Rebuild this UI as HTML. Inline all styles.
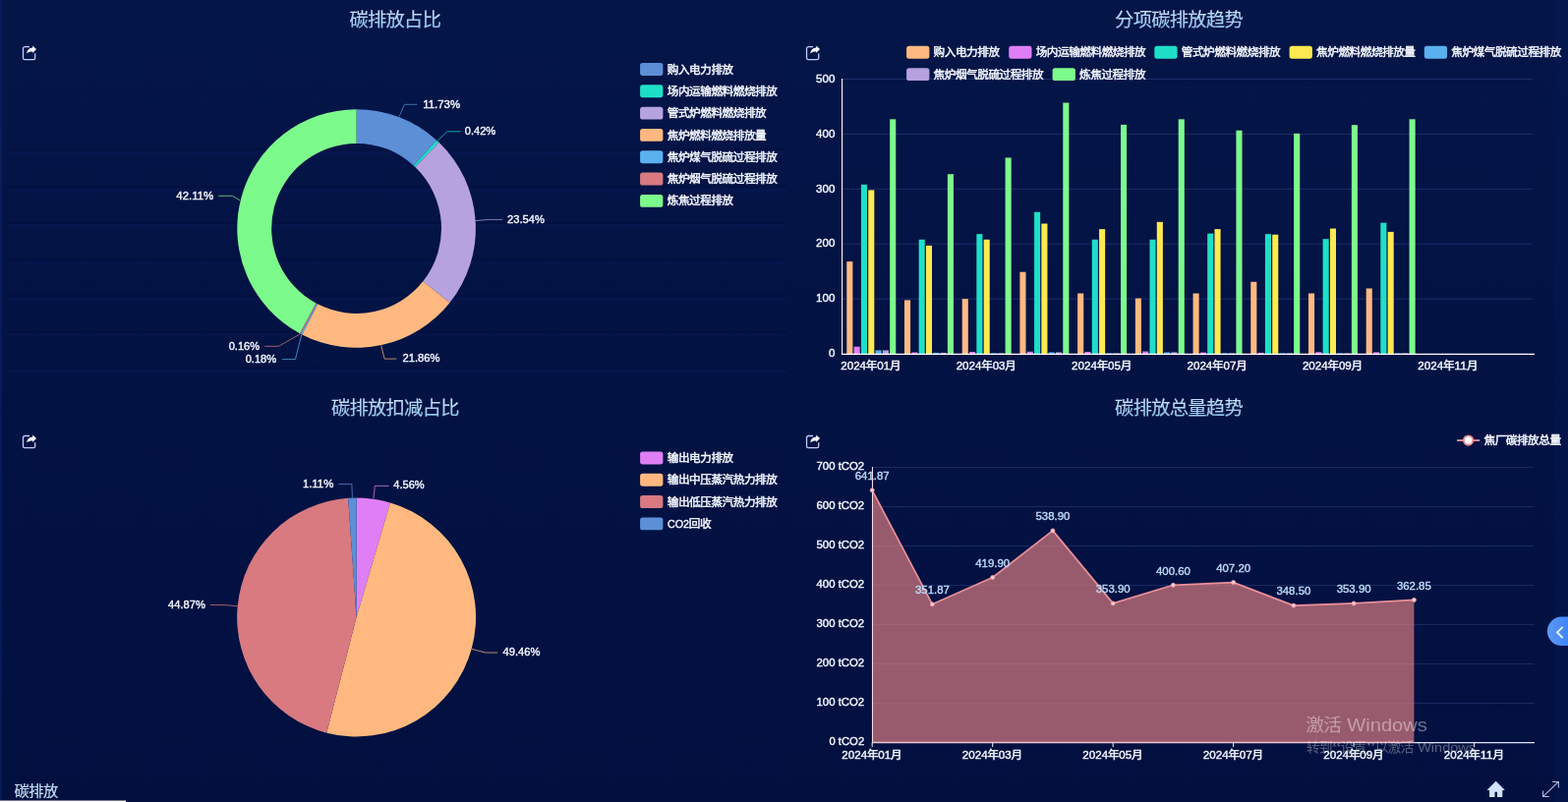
<!DOCTYPE html>
<html lang="zh"><head><meta charset="utf-8"><title>碳排放</title>
<style>
html,body{margin:0;padding:0;background:#031344;overflow:hidden}
svg{display:block;will-change:transform}
text{font-family:"Liberation Sans","Noto Sans CJK SC",sans-serif}
</style></head><body>
<svg width="1595" height="816" viewBox="0 0 1595 816">
<defs>
<linearGradient id="bgv" x1="0" y1="0" x2="0" y2="1"><stop offset="0" stop-color="#041548"/><stop offset="0.35" stop-color="#031344"/><stop offset="1" stop-color="#021040"/></linearGradient>
<linearGradient id="tg" x1="0" y1="0" x2="0" y2="1"><stop offset="0" stop-color="#cfe6fb"/><stop offset="1" stop-color="#86bde9"/></linearGradient>
<linearGradient id="bg1" x1="0" y1="0" x2="1" y2="0"><stop offset="0" stop-color="#5e97f3"/><stop offset="1" stop-color="#3f85f7"/></linearGradient>
</defs>
<rect width="1595" height="816" fill="url(#bgv)"/>
<rect x="0" y="0" width="2" height="816" fill="#0a2a78" opacity="0.4"/>
<line x1="856.9" x2="1559.0" y1="304.10" y2="304.10" stroke="#1f2e6a" stroke-width="1"/>
<line x1="856.9" x2="1559.0" y1="248.20" y2="248.20" stroke="#1f2e6a" stroke-width="1"/>
<line x1="856.9" x2="1559.0" y1="192.30" y2="192.30" stroke="#1f2e6a" stroke-width="1"/>
<line x1="856.9" x2="1559.0" y1="136.40" y2="136.40" stroke="#1f2e6a" stroke-width="1"/>
<line x1="856.9" x2="1559.0" y1="80.50" y2="80.50" stroke="#1f2e6a" stroke-width="1"/>
<rect x="8" y="151.1" width="792" height="2.4" fill="#000830" opacity="0.22"/>
<rect x="8" y="153.6" width="792" height="4" fill="#1a3080" opacity="0.11"/>
<rect x="8" y="188.9" width="792" height="2.4" fill="#000830" opacity="0.22"/>
<rect x="8" y="191.4" width="792" height="4" fill="#1a3080" opacity="0.11"/>
<rect x="8" y="225.4" width="792" height="2.4" fill="#000830" opacity="0.22"/>
<rect x="8" y="227.9" width="792" height="4" fill="#1a3080" opacity="0.11"/>
<rect x="8" y="262.9" width="792" height="2.4" fill="#000830" opacity="0.22"/>
<rect x="8" y="265.4" width="792" height="4" fill="#1a3080" opacity="0.11"/>
<rect x="8" y="299.4" width="792" height="2.4" fill="#000830" opacity="0.22"/>
<rect x="8" y="301.9" width="792" height="4" fill="#1a3080" opacity="0.11"/>
<rect x="8" y="336.4" width="792" height="2.4" fill="#000830" opacity="0.22"/>
<rect x="8" y="338.9" width="792" height="4" fill="#1a3080" opacity="0.11"/>
<rect x="8" y="373.4" width="792" height="2.4" fill="#000830" opacity="0.22"/>
<rect x="8" y="375.9" width="792" height="4" fill="#1a3080" opacity="0.11"/>
<rect x="1581" y="0" width="14" height="816" fill="#0a2a78" opacity="0.12"/>
<g fill="url(#tg)" stroke="#a9d2f2" stroke-width="0.15"><text x="355.45" y="26.83" font-size="19.29" textLength="93.49" lengthAdjust="spacing">碳排放占比</text></g>
<g fill="url(#tg)" stroke="#a9d2f2" stroke-width="0.15"><text x="1134.10" y="26.83" font-size="19.29" textLength="130.59" lengthAdjust="spacing">分项碳排放趋势</text></g>
<g fill="url(#tg)" stroke="#a9d2f2" stroke-width="0.15"><text x="336.90" y="422.23" font-size="19.29" textLength="130.59" lengthAdjust="spacing">碳排放扣减占比</text></g>
<g fill="url(#tg)" stroke="#a9d2f2" stroke-width="0.15"><text x="1134.10" y="422.23" font-size="19.29" textLength="130.59" lengthAdjust="spacing">碳排放总量趋势</text></g>
<g transform="translate(22.70 46.40)"><path d="M7.3 1.2H2.5a1.7 1.7 0 0 0-1.7 1.7v9.60a1.7 1.7 0 0 0 1.7 1.7h8.8a1.7 1.7 0 0 0 1.7-1.7V7.9" fill="none" stroke="#c3cefa" stroke-width="1.3"/><path d="M14.3 3.7L10.5 0.1V2.1C7.2 2.3 4.9 4.5 4.5 8.0C6.1 6.7 7.9 6.1 10.5 6.1V7.7Z" fill="#f3f6ff"/></g>
<g transform="translate(819.75 46.40)"><path d="M7.3 1.2H2.5a1.7 1.7 0 0 0-1.7 1.7v9.60a1.7 1.7 0 0 0 1.7 1.7h8.8a1.7 1.7 0 0 0 1.7-1.7V7.9" fill="none" stroke="#c3cefa" stroke-width="1.3"/><path d="M14.3 3.7L10.5 0.1V2.1C7.2 2.3 4.9 4.5 4.5 8.0C6.1 6.7 7.9 6.1 10.5 6.1V7.7Z" fill="#f3f6ff"/></g>
<g transform="translate(22.70 442.30)"><path d="M7.3 1.2H2.5a1.7 1.7 0 0 0-1.7 1.7v8.70a1.7 1.7 0 0 0 1.7 1.7h8.8a1.7 1.7 0 0 0 1.7-1.7V7.9" fill="none" stroke="#c3cefa" stroke-width="1.3"/><path d="M14.3 3.7L10.5 0.1V2.1C7.2 2.3 4.9 4.5 4.5 8.0C6.1 6.7 7.9 6.1 10.5 6.1V7.7Z" fill="#f3f6ff"/></g>
<g transform="translate(819.75 442.30)"><path d="M7.3 1.2H2.5a1.7 1.7 0 0 0-1.7 1.7v8.70a1.7 1.7 0 0 0 1.7 1.7h8.8a1.7 1.7 0 0 0 1.7-1.7V7.9" fill="none" stroke="#c3cefa" stroke-width="1.3"/><path d="M14.3 3.7L10.5 0.1V2.1C7.2 2.3 4.9 4.5 4.5 8.0C6.1 6.7 7.9 6.1 10.5 6.1V7.7Z" fill="#f3f6ff"/></g>
<rect x="651.10" y="64.00" width="23.3" height="12.9" rx="2.6" fill="#5c8fd6"/>
<g fill="#f3f6ff" stroke="#f3f6ff" stroke-width="0.48"><text x="678.78" y="74.55" font-size="11.61" textLength="67.41" lengthAdjust="spacing">购入电力排放</text></g>
<rect x="651.10" y="86.32" width="23.3" height="12.9" rx="2.6" fill="#1fdec8"/>
<g fill="#f3f6ff" stroke="#f3f6ff" stroke-width="0.48"><text x="678.78" y="96.87" font-size="11.61" textLength="112.05" lengthAdjust="spacing">场内运输燃料燃烧排放</text></g>
<rect x="651.10" y="108.64" width="23.3" height="12.9" rx="2.6" fill="#b6a2de"/>
<g fill="#f3f6ff" stroke="#f3f6ff" stroke-width="0.48"><text x="678.78" y="119.19" font-size="11.61" textLength="100.89" lengthAdjust="spacing">管式炉燃料燃烧排放</text></g>
<rect x="651.10" y="130.96" width="23.3" height="12.9" rx="2.6" fill="#ffb980"/>
<g fill="#f3f6ff" stroke="#f3f6ff" stroke-width="0.48"><text x="678.78" y="141.51" font-size="11.61" textLength="100.89" lengthAdjust="spacing">焦炉燃料燃烧排放量</text></g>
<rect x="651.10" y="153.28" width="23.3" height="12.9" rx="2.6" fill="#5ab1ef"/>
<g fill="#f3f6ff" stroke="#f3f6ff" stroke-width="0.48"><text x="678.78" y="163.83" font-size="11.61" textLength="112.05" lengthAdjust="spacing">焦炉煤气脱硫过程排放</text></g>
<rect x="651.10" y="175.60" width="23.3" height="12.9" rx="2.6" fill="#d87a80"/>
<g fill="#f3f6ff" stroke="#f3f6ff" stroke-width="0.48"><text x="678.78" y="186.15" font-size="11.61" textLength="112.05" lengthAdjust="spacing">焦炉烟气脱硫过程排放</text></g>
<rect x="651.10" y="197.92" width="23.3" height="12.9" rx="2.6" fill="#7dfa8c"/>
<g fill="#f3f6ff" stroke="#f3f6ff" stroke-width="0.48"><text x="678.78" y="208.47" font-size="11.61" textLength="67.41" lengthAdjust="spacing">炼焦过程排放</text></g>
<rect x="651.10" y="459.50" width="23.3" height="12.9" rx="2.6" fill="#e07ff5"/>
<g fill="#f3f6ff" stroke="#f3f6ff" stroke-width="0.48"><text x="678.78" y="470.05" font-size="11.61" textLength="67.41" lengthAdjust="spacing">输出电力排放</text></g>
<rect x="651.10" y="481.80" width="23.3" height="12.9" rx="2.6" fill="#ffb980"/>
<g fill="#f3f6ff" stroke="#f3f6ff" stroke-width="0.48"><text x="678.78" y="492.35" font-size="11.61" textLength="112.05" lengthAdjust="spacing">输出中压蒸汽热力排放</text></g>
<rect x="651.10" y="504.10" width="23.3" height="12.9" rx="2.6" fill="#d87a80"/>
<g fill="#f3f6ff" stroke="#f3f6ff" stroke-width="0.48"><text x="678.78" y="514.65" font-size="11.61" textLength="112.05" lengthAdjust="spacing">输出低压蒸汽热力排放</text></g>
<rect x="651.10" y="526.40" width="23.3" height="12.9" rx="2.6" fill="#5c8fd6"/>
<g fill="#f3f6ff" stroke="#f3f6ff" ><text x="679.00" y="536.88" font-size="11.72" textLength="22.05" lengthAdjust="spacingAndGlyphs" stroke-width="0.40">CO2</text><text x="700.82" y="536.95" font-size="11.61" textLength="22.77" lengthAdjust="spacing" stroke-width="0.48">回收</text></g>
<rect x="922.10" y="46.80" width="23.3" height="12.9" rx="2.6" fill="#ffb980"/>
<g fill="#f3f6ff" stroke="#f3f6ff" stroke-width="0.48"><text x="949.58" y="57.35" font-size="11.61" textLength="67.41" lengthAdjust="spacing">购入电力排放</text></g>
<rect x="1026.20" y="46.80" width="23.3" height="12.9" rx="2.6" fill="#e07ff5"/>
<g fill="#f3f6ff" stroke="#f3f6ff" stroke-width="0.48"><text x="1053.68" y="57.35" font-size="11.61" textLength="112.05" lengthAdjust="spacing">场内运输燃料燃烧排放</text></g>
<rect x="1174.30" y="46.80" width="23.3" height="12.9" rx="2.6" fill="#1fdec8"/>
<g fill="#f3f6ff" stroke="#f3f6ff" stroke-width="0.48"><text x="1201.78" y="57.35" font-size="11.61" textLength="100.89" lengthAdjust="spacing">管式炉燃料燃烧排放</text></g>
<rect x="1311.60" y="46.80" width="23.3" height="12.9" rx="2.6" fill="#fde950"/>
<g fill="#f3f6ff" stroke="#f3f6ff" stroke-width="0.48"><text x="1339.08" y="57.35" font-size="11.61" textLength="100.89" lengthAdjust="spacing">焦炉燃料燃烧排放量</text></g>
<rect x="1448.80" y="46.80" width="23.3" height="12.9" rx="2.6" fill="#5ab1ef"/>
<g fill="#f3f6ff" stroke="#f3f6ff" stroke-width="0.48"><text x="1476.28" y="57.35" font-size="11.61" textLength="112.05" lengthAdjust="spacing">焦炉煤气脱硫过程排放</text></g>
<rect x="922.10" y="69.20" width="23.3" height="12.9" rx="2.6" fill="#b6a2de"/>
<g fill="#f3f6ff" stroke="#f3f6ff" stroke-width="0.48"><text x="949.58" y="79.75" font-size="11.61" textLength="112.05" lengthAdjust="spacing">焦炉烟气脱硫过程排放</text></g>
<rect x="1070.60" y="69.20" width="23.3" height="12.9" rx="2.6" fill="#7dfa8c"/>
<g fill="#f3f6ff" stroke="#f3f6ff" stroke-width="0.48"><text x="1098.08" y="79.75" font-size="11.61" textLength="67.41" lengthAdjust="spacing">炼焦过程排放</text></g>
<path d="M362.60 111.20A121.30 121.30 0 0 1 444.12 142.68L420.67 168.52A86.40 86.40 0 0 0 362.60 146.10Z" fill="#5c8fd6"/>
<path d="M444.12 142.68A121.30 121.30 0 0 1 446.47 144.86L422.34 170.08A86.40 86.40 0 0 0 420.67 168.52Z" fill="#1fdec8"/>
<path d="M446.47 144.86A121.30 121.30 0 0 1 457.55 307.98L430.23 286.27A86.40 86.40 0 0 0 422.34 170.08Z" fill="#b6a2de"/>
<path d="M457.55 307.98A121.30 121.30 0 0 1 307.19 340.41L323.13 309.36A86.40 86.40 0 0 0 430.23 286.27Z" fill="#ffb980"/>
<path d="M307.19 340.41A121.30 121.30 0 0 1 305.97 339.77L322.27 308.91A86.40 86.40 0 0 0 323.13 309.36Z" fill="#5ab1ef"/>
<path d="M305.97 339.77A121.30 121.30 0 0 1 304.90 339.20L321.50 308.50A86.40 86.40 0 0 0 322.27 308.91Z" fill="#d87a80"/>
<path d="M304.90 339.20A121.30 121.30 0 0 1 362.60 111.20L362.60 146.10A86.40 86.40 0 0 0 321.50 308.50Z" fill="#7dfa8c"/>
<polyline points="406.1,118.6 411.4,106.3 424.4,106.3" fill="none" stroke="#5c8fd6" stroke-width="1.0" stroke-opacity="0.72"/>
<polyline points="445.4,143.0 454.8,133.8 468.7,133.8" fill="none" stroke="#1fdec8" stroke-width="1.0" stroke-opacity="0.72"/>
<polyline points="483.6,224.6 497.3,223.4 511.1,223.4" fill="none" stroke="#b6a2de" stroke-width="1.0" stroke-opacity="0.72"/>
<polyline points="387.7,351.5 391.2,365.1 403.3,365.1" fill="none" stroke="#ffb980" stroke-width="1.0" stroke-opacity="0.72"/>
<polyline points="306.8,340.3 300.4,365.6 287.1,365.6" fill="none" stroke="#5ab1ef" stroke-width="1.0" stroke-opacity="0.72"/>
<polyline points="305.7,339.7 283.4,352.3 269.1,352.3" fill="none" stroke="#d87a80" stroke-width="1.0" stroke-opacity="0.72"/>
<polyline points="244.2,203.9 236.5,199.3 222.2,199.3" fill="none" stroke="#7dfa8c" stroke-width="1.0" stroke-opacity="0.72"/>
<g fill="#f3f6ff" stroke="#f3f6ff" ><text x="430.20" y="110.08" font-size="11.72" textLength="37.86" lengthAdjust="spacingAndGlyphs" stroke-width="0.40">11.73%</text></g>
<g fill="#f3f6ff" stroke="#f3f6ff" ><text x="472.80" y="137.08" font-size="11.72" textLength="31.41" lengthAdjust="spacingAndGlyphs" stroke-width="0.40">0.42%</text></g>
<g fill="#f3f6ff" stroke="#f3f6ff" ><text x="516.10" y="226.88" font-size="11.72" textLength="37.86" lengthAdjust="spacingAndGlyphs" stroke-width="0.40">23.54%</text></g>
<g fill="#f3f6ff" stroke="#f3f6ff" ><text x="409.50" y="368.08" font-size="11.72" textLength="37.86" lengthAdjust="spacingAndGlyphs" stroke-width="0.40">21.86%</text></g>
<g fill="#f3f6ff" stroke="#f3f6ff" ><text x="249.69" y="368.88" font-size="11.72" textLength="31.41" lengthAdjust="spacingAndGlyphs" stroke-width="0.40">0.18%</text></g>
<g fill="#f3f6ff" stroke="#f3f6ff" ><text x="232.69" y="355.78" font-size="11.72" textLength="31.41" lengthAdjust="spacingAndGlyphs" stroke-width="0.40">0.16%</text></g>
<g fill="#f3f6ff" stroke="#f3f6ff" ><text x="179.34" y="203.08" font-size="11.72" textLength="37.86" lengthAdjust="spacingAndGlyphs" stroke-width="0.40">42.11%</text></g>
<path d="M362.60 628.00L362.60 506.50A121.50 121.50 0 0 1 396.94 511.45Z" fill="#e07ff5"/>
<path d="M362.60 628.00L396.94 511.45A121.50 121.50 0 0 1 332.24 745.64Z" fill="#ffb980"/>
<path d="M362.60 628.00L332.24 745.64A121.50 121.50 0 0 1 354.13 506.80Z" fill="#d87a80"/>
<path d="M362.60 628.00L354.13 506.80A121.50 121.50 0 0 1 362.60 506.50Z" fill="#5c8fd6"/>
<polyline points="379.9,507.6 381.3,494.4 395.7,494.4" fill="none" stroke="#e07ff5" stroke-width="1.0" stroke-opacity="0.72"/>
<polyline points="479.9,660.3 493.5,664.0 506.1,664.0" fill="none" stroke="#ffb980" stroke-width="1.0" stroke-opacity="0.72"/>
<polyline points="241.6,616.7 227.7,615.5 213.9,615.5" fill="none" stroke="#d87a80" stroke-width="1.0" stroke-opacity="0.72"/>
<polyline points="358.4,506.6 357.9,492.6 344.3,492.6" fill="none" stroke="#5c8fd6" stroke-width="1.0" stroke-opacity="0.72"/>
<g fill="#f3f6ff" stroke="#f3f6ff" ><text x="400.30" y="496.88" font-size="11.72" textLength="31.41" lengthAdjust="spacingAndGlyphs" stroke-width="0.40">4.56%</text></g>
<g fill="#f3f6ff" stroke="#f3f6ff" ><text x="511.60" y="667.48" font-size="11.72" textLength="37.86" lengthAdjust="spacingAndGlyphs" stroke-width="0.40">49.46%</text></g>
<g fill="#f3f6ff" stroke="#f3f6ff" ><text x="171.04" y="618.58" font-size="11.72" textLength="37.86" lengthAdjust="spacingAndGlyphs" stroke-width="0.40">44.87%</text></g>
<g fill="#f3f6ff" stroke="#f3f6ff" ><text x="307.89" y="496.18" font-size="11.72" textLength="31.41" lengthAdjust="spacingAndGlyphs" stroke-width="0.40">1.11%</text></g>
<g fill="#f3f6ff" stroke="#f3f6ff" ><text x="842.94" y="363.28" font-size="11.72" textLength="6.46" lengthAdjust="spacingAndGlyphs" stroke-width="0.40">0</text></g>
<g fill="#f3f6ff" stroke="#f3f6ff" ><text x="830.03" y="307.38" font-size="11.72" textLength="19.37" lengthAdjust="spacingAndGlyphs" stroke-width="0.40">100</text></g>
<g fill="#f3f6ff" stroke="#f3f6ff" ><text x="830.03" y="251.48" font-size="11.72" textLength="19.37" lengthAdjust="spacingAndGlyphs" stroke-width="0.40">200</text></g>
<g fill="#f3f6ff" stroke="#f3f6ff" ><text x="830.03" y="195.58" font-size="11.72" textLength="19.37" lengthAdjust="spacingAndGlyphs" stroke-width="0.40">300</text></g>
<g fill="#f3f6ff" stroke="#f3f6ff" ><text x="830.03" y="139.68" font-size="11.72" textLength="19.37" lengthAdjust="spacingAndGlyphs" stroke-width="0.40">400</text></g>
<g fill="#f3f6ff" stroke="#f3f6ff" ><text x="830.03" y="83.78" font-size="11.72" textLength="19.37" lengthAdjust="spacingAndGlyphs" stroke-width="0.40">500</text></g>
<rect x="861.30" y="266.09" width="6.10" height="93.91" fill="#ffb980"/>
<rect x="920.01" y="305.39" width="6.10" height="54.61" fill="#ffb980"/>
<rect x="978.72" y="304.10" width="6.10" height="55.90" fill="#ffb980"/>
<rect x="1037.43" y="276.71" width="6.10" height="83.29" fill="#ffb980"/>
<rect x="1096.14" y="298.51" width="6.10" height="61.49" fill="#ffb980"/>
<rect x="1154.85" y="303.54" width="6.10" height="56.46" fill="#ffb980"/>
<rect x="1213.56" y="298.51" width="6.10" height="61.49" fill="#ffb980"/>
<rect x="1272.27" y="286.77" width="6.10" height="73.23" fill="#ffb980"/>
<rect x="1330.98" y="298.51" width="6.10" height="61.49" fill="#ffb980"/>
<rect x="1389.69" y="293.48" width="6.10" height="66.52" fill="#ffb980"/>
<rect x="868.61" y="352.73" width="6.10" height="7.27" fill="#e07ff5"/>
<rect x="927.32" y="358.49" width="6.10" height="1.51" fill="#e07ff5"/>
<rect x="986.03" y="357.99" width="6.10" height="2.01" fill="#e07ff5"/>
<rect x="1044.74" y="357.76" width="6.10" height="2.24" fill="#e07ff5"/>
<rect x="1103.45" y="357.99" width="6.10" height="2.01" fill="#e07ff5"/>
<rect x="1162.16" y="357.54" width="6.10" height="2.46" fill="#e07ff5"/>
<rect x="1220.87" y="358.60" width="6.10" height="1.40" fill="#e07ff5"/>
<rect x="1279.58" y="358.88" width="6.10" height="1.12" fill="#e07ff5"/>
<rect x="1338.29" y="358.21" width="6.10" height="1.79" fill="#e07ff5"/>
<rect x="1397.00" y="358.32" width="6.10" height="1.68" fill="#e07ff5"/>
<rect x="875.92" y="187.83" width="6.10" height="172.17" fill="#1fdec8"/>
<rect x="934.63" y="243.73" width="6.10" height="116.27" fill="#1fdec8"/>
<rect x="993.34" y="238.14" width="6.10" height="121.86" fill="#1fdec8"/>
<rect x="1052.05" y="215.78" width="6.10" height="144.22" fill="#1fdec8"/>
<rect x="1110.76" y="243.73" width="6.10" height="116.27" fill="#1fdec8"/>
<rect x="1169.47" y="243.73" width="6.10" height="116.27" fill="#1fdec8"/>
<rect x="1228.18" y="237.58" width="6.10" height="122.42" fill="#1fdec8"/>
<rect x="1286.89" y="238.14" width="6.10" height="121.86" fill="#1fdec8"/>
<rect x="1345.60" y="243.17" width="6.10" height="116.83" fill="#1fdec8"/>
<rect x="1404.31" y="226.68" width="6.10" height="133.32" fill="#1fdec8"/>
<rect x="883.23" y="193.42" width="6.10" height="166.58" fill="#fde950"/>
<rect x="941.94" y="249.88" width="6.10" height="110.12" fill="#fde950"/>
<rect x="1000.65" y="243.73" width="6.10" height="116.27" fill="#fde950"/>
<rect x="1059.36" y="227.52" width="6.10" height="132.48" fill="#fde950"/>
<rect x="1118.07" y="233.11" width="6.10" height="126.89" fill="#fde950"/>
<rect x="1176.78" y="225.84" width="6.10" height="134.16" fill="#fde950"/>
<rect x="1235.49" y="233.11" width="6.10" height="126.89" fill="#fde950"/>
<rect x="1294.20" y="238.70" width="6.10" height="121.30" fill="#fde950"/>
<rect x="1352.91" y="232.55" width="6.10" height="127.45" fill="#fde950"/>
<rect x="1411.62" y="235.90" width="6.10" height="124.10" fill="#fde950"/>
<rect x="890.54" y="356.42" width="6.10" height="3.58" fill="#5ab1ef"/>
<rect x="949.25" y="358.88" width="6.10" height="1.12" fill="#5ab1ef"/>
<rect x="1007.96" y="359.44" width="6.10" height="0.56" fill="#5ab1ef"/>
<rect x="1066.67" y="358.43" width="6.10" height="1.57" fill="#5ab1ef"/>
<rect x="1125.38" y="359.44" width="6.10" height="0.56" fill="#5ab1ef"/>
<rect x="1184.09" y="358.43" width="6.10" height="1.57" fill="#5ab1ef"/>
<rect x="1242.80" y="359.44" width="6.10" height="0.56" fill="#5ab1ef"/>
<rect x="1301.51" y="359.44" width="6.10" height="0.56" fill="#5ab1ef"/>
<rect x="1360.22" y="359.44" width="6.10" height="0.56" fill="#5ab1ef"/>
<rect x="1418.93" y="359.44" width="6.10" height="0.56" fill="#5ab1ef"/>
<rect x="897.85" y="356.42" width="6.10" height="3.58" fill="#b6a2de"/>
<rect x="956.56" y="358.88" width="6.10" height="1.12" fill="#b6a2de"/>
<rect x="1015.27" y="359.44" width="6.10" height="0.56" fill="#b6a2de"/>
<rect x="1073.98" y="358.43" width="6.10" height="1.57" fill="#b6a2de"/>
<rect x="1132.69" y="359.44" width="6.10" height="0.56" fill="#b6a2de"/>
<rect x="1191.40" y="358.43" width="6.10" height="1.57" fill="#b6a2de"/>
<rect x="1250.11" y="359.44" width="6.10" height="0.56" fill="#b6a2de"/>
<rect x="1308.82" y="359.44" width="6.10" height="0.56" fill="#b6a2de"/>
<rect x="1367.53" y="359.44" width="6.10" height="0.56" fill="#b6a2de"/>
<rect x="1426.24" y="359.44" width="6.10" height="0.56" fill="#b6a2de"/>
<rect x="905.16" y="121.31" width="6.10" height="238.69" fill="#7dfa8c"/>
<rect x="963.87" y="177.21" width="6.10" height="182.79" fill="#7dfa8c"/>
<rect x="1022.58" y="160.44" width="6.10" height="199.56" fill="#7dfa8c"/>
<rect x="1081.29" y="104.54" width="6.10" height="255.46" fill="#7dfa8c"/>
<rect x="1140.00" y="126.90" width="6.10" height="233.10" fill="#7dfa8c"/>
<rect x="1198.71" y="121.31" width="6.10" height="238.69" fill="#7dfa8c"/>
<rect x="1257.42" y="132.71" width="6.10" height="227.29" fill="#7dfa8c"/>
<rect x="1316.13" y="135.84" width="6.10" height="224.16" fill="#7dfa8c"/>
<rect x="1374.84" y="127.18" width="6.10" height="232.82" fill="#7dfa8c"/>
<rect x="1433.55" y="121.31" width="6.10" height="238.69" fill="#7dfa8c"/>
<line x1="856.6" x2="856.6" y1="80" y2="361" stroke="#fff" stroke-width="1.1"/>
<line x1="856.1" x2="1561.0" y1="360.4" y2="360.4" stroke="#fff" stroke-width="1.2"/>
<g fill="#f3f6ff" stroke="#f3f6ff" ><text x="855.22" y="376.08" font-size="11.72" textLength="25.83" lengthAdjust="spacingAndGlyphs" stroke-width="0.40">2024</text><text x="880.83" y="376.15" font-size="11.61" stroke-width="0.48">年</text><text x="892.21" y="376.08" font-size="11.72" textLength="12.91" lengthAdjust="spacingAndGlyphs" stroke-width="0.40">01</text><text x="904.90" y="376.15" font-size="11.61" stroke-width="0.48">月</text></g>
<g fill="#f3f6ff" stroke="#f3f6ff" ><text x="972.64" y="376.08" font-size="11.72" textLength="25.83" lengthAdjust="spacingAndGlyphs" stroke-width="0.40">2024</text><text x="998.25" y="376.15" font-size="11.61" stroke-width="0.48">年</text><text x="1009.63" y="376.08" font-size="11.72" textLength="12.91" lengthAdjust="spacingAndGlyphs" stroke-width="0.40">03</text><text x="1022.32" y="376.15" font-size="11.61" stroke-width="0.48">月</text></g>
<g fill="#f3f6ff" stroke="#f3f6ff" ><text x="1090.06" y="376.08" font-size="11.72" textLength="25.83" lengthAdjust="spacingAndGlyphs" stroke-width="0.40">2024</text><text x="1115.67" y="376.15" font-size="11.61" stroke-width="0.48">年</text><text x="1127.05" y="376.08" font-size="11.72" textLength="12.91" lengthAdjust="spacingAndGlyphs" stroke-width="0.40">05</text><text x="1139.74" y="376.15" font-size="11.61" stroke-width="0.48">月</text></g>
<g fill="#f3f6ff" stroke="#f3f6ff" ><text x="1207.48" y="376.08" font-size="11.72" textLength="25.83" lengthAdjust="spacingAndGlyphs" stroke-width="0.40">2024</text><text x="1233.09" y="376.15" font-size="11.61" stroke-width="0.48">年</text><text x="1244.47" y="376.08" font-size="11.72" textLength="12.91" lengthAdjust="spacingAndGlyphs" stroke-width="0.40">07</text><text x="1257.16" y="376.15" font-size="11.61" stroke-width="0.48">月</text></g>
<g fill="#f3f6ff" stroke="#f3f6ff" ><text x="1324.90" y="376.08" font-size="11.72" textLength="25.83" lengthAdjust="spacingAndGlyphs" stroke-width="0.40">2024</text><text x="1350.51" y="376.15" font-size="11.61" stroke-width="0.48">年</text><text x="1361.89" y="376.08" font-size="11.72" textLength="12.91" lengthAdjust="spacingAndGlyphs" stroke-width="0.40">09</text><text x="1374.58" y="376.15" font-size="11.61" stroke-width="0.48">月</text></g>
<g fill="#f3f6ff" stroke="#f3f6ff" ><text x="1442.32" y="376.08" font-size="11.72" textLength="25.83" lengthAdjust="spacingAndGlyphs" stroke-width="0.40">2024</text><text x="1467.93" y="376.15" font-size="11.61" stroke-width="0.48">年</text><text x="1479.31" y="376.08" font-size="11.72" textLength="12.91" lengthAdjust="spacingAndGlyphs" stroke-width="0.40">11</text><text x="1492.00" y="376.15" font-size="11.61" stroke-width="0.48">月</text></g>
<line x1="887.2" x2="1560.5" y1="715.50" y2="715.50" stroke="#1a2962" stroke-width="1"/>
<line x1="887.2" x2="1560.5" y1="675.50" y2="675.50" stroke="#1a2962" stroke-width="1"/>
<line x1="887.2" x2="1560.5" y1="635.50" y2="635.50" stroke="#1a2962" stroke-width="1"/>
<line x1="887.2" x2="1560.5" y1="595.50" y2="595.50" stroke="#1a2962" stroke-width="1"/>
<line x1="887.2" x2="1560.5" y1="555.50" y2="555.50" stroke="#1a2962" stroke-width="1"/>
<line x1="887.2" x2="1560.5" y1="515.50" y2="515.50" stroke="#1a2962" stroke-width="1"/>
<line x1="887.2" x2="1560.5" y1="475.50" y2="475.50" stroke="#1a2962" stroke-width="1"/>
<g fill="#f3f6ff" stroke="#f3f6ff" ><text x="843.42" y="758.08" font-size="11.72" textLength="35.78" lengthAdjust="spacingAndGlyphs" stroke-width="0.40">0 tCO2</text></g>
<g fill="#f3f6ff" stroke="#f3f6ff" ><text x="830.50" y="718.08" font-size="11.72" textLength="48.70" lengthAdjust="spacingAndGlyphs" stroke-width="0.40">100 tCO2</text></g>
<g fill="#f3f6ff" stroke="#f3f6ff" ><text x="830.50" y="678.08" font-size="11.72" textLength="48.70" lengthAdjust="spacingAndGlyphs" stroke-width="0.40">200 tCO2</text></g>
<g fill="#f3f6ff" stroke="#f3f6ff" ><text x="830.50" y="638.08" font-size="11.72" textLength="48.70" lengthAdjust="spacingAndGlyphs" stroke-width="0.40">300 tCO2</text></g>
<g fill="#f3f6ff" stroke="#f3f6ff" ><text x="830.50" y="598.08" font-size="11.72" textLength="48.70" lengthAdjust="spacingAndGlyphs" stroke-width="0.40">400 tCO2</text></g>
<g fill="#f3f6ff" stroke="#f3f6ff" ><text x="830.50" y="558.08" font-size="11.72" textLength="48.70" lengthAdjust="spacingAndGlyphs" stroke-width="0.40">500 tCO2</text></g>
<g fill="#f3f6ff" stroke="#f3f6ff" ><text x="830.50" y="518.08" font-size="11.72" textLength="48.70" lengthAdjust="spacingAndGlyphs" stroke-width="0.40">600 tCO2</text></g>
<g fill="#f3f6ff" stroke="#f3f6ff" ><text x="830.50" y="478.08" font-size="11.72" textLength="48.70" lengthAdjust="spacingAndGlyphs" stroke-width="0.40">700 tCO2</text></g>
<path d="M887.2 755.5L887.2 498.8L948.4 614.8L1009.7 587.5L1070.9 539.9L1132.2 613.9L1193.4 595.3L1254.6 592.6L1315.9 616.1L1377.1 613.9L1438.4 610.4L1438.4 755.5Z" fill="#d87a80" fill-opacity="0.7"/>
<polyline points="887.2,498.8 948.4,614.8 1009.7,587.5 1070.9,539.9 1132.2,613.9 1193.4,595.3 1254.6,592.6 1315.9,616.1 1377.1,613.9 1438.4,610.4" fill="none" stroke="#ea8f99" stroke-width="1.7" stroke-linejoin="round"/>
<line x1="887.5" x2="887.5" y1="475" y2="756.3" stroke="#f6dbe4" stroke-width="1.1"/>
<line x1="887" x2="1438.4" y1="755.6" y2="755.6" stroke="#f0c3d1" stroke-width="1.5"/>
<line x1="1438.4" x2="1561" y1="755.6" y2="755.6" stroke="#dfe4ff" stroke-width="1.3"/>
<line x1="887.2" x2="887.2" y1="755.5" y2="760.1" stroke="#e9ecff" stroke-width="1"/>
<g fill="#f3f6ff" stroke="#f3f6ff" ><text x="856.37" y="771.58" font-size="11.72" textLength="25.83" lengthAdjust="spacingAndGlyphs" stroke-width="0.40">2024</text><text x="881.97" y="771.65" font-size="11.61" stroke-width="0.48">年</text><text x="893.36" y="771.58" font-size="11.72" textLength="12.91" lengthAdjust="spacingAndGlyphs" stroke-width="0.40">01</text><text x="906.05" y="771.65" font-size="11.61" stroke-width="0.48">月</text></g>
<line x1="1009.7" x2="1009.7" y1="755.5" y2="760.1" stroke="#e9ecff" stroke-width="1"/>
<g fill="#f3f6ff" stroke="#f3f6ff" ><text x="978.85" y="771.58" font-size="11.72" textLength="25.83" lengthAdjust="spacingAndGlyphs" stroke-width="0.40">2024</text><text x="1004.45" y="771.65" font-size="11.61" stroke-width="0.48">年</text><text x="1015.84" y="771.58" font-size="11.72" textLength="12.91" lengthAdjust="spacingAndGlyphs" stroke-width="0.40">03</text><text x="1028.53" y="771.65" font-size="11.61" stroke-width="0.48">月</text></g>
<line x1="1132.2" x2="1132.2" y1="755.5" y2="760.1" stroke="#e9ecff" stroke-width="1"/>
<g fill="#f3f6ff" stroke="#f3f6ff" ><text x="1101.33" y="771.58" font-size="11.72" textLength="25.83" lengthAdjust="spacingAndGlyphs" stroke-width="0.40">2024</text><text x="1126.93" y="771.65" font-size="11.61" stroke-width="0.48">年</text><text x="1138.32" y="771.58" font-size="11.72" textLength="12.91" lengthAdjust="spacingAndGlyphs" stroke-width="0.40">05</text><text x="1151.01" y="771.65" font-size="11.61" stroke-width="0.48">月</text></g>
<line x1="1254.6" x2="1254.6" y1="755.5" y2="760.1" stroke="#e9ecff" stroke-width="1"/>
<g fill="#f3f6ff" stroke="#f3f6ff" ><text x="1223.81" y="771.58" font-size="11.72" textLength="25.83" lengthAdjust="spacingAndGlyphs" stroke-width="0.40">2024</text><text x="1249.41" y="771.65" font-size="11.61" stroke-width="0.48">年</text><text x="1260.80" y="771.58" font-size="11.72" textLength="12.91" lengthAdjust="spacingAndGlyphs" stroke-width="0.40">07</text><text x="1273.49" y="771.65" font-size="11.61" stroke-width="0.48">月</text></g>
<line x1="1377.1" x2="1377.1" y1="755.5" y2="760.1" stroke="#e9ecff" stroke-width="1"/>
<g fill="#f3f6ff" stroke="#f3f6ff" ><text x="1346.29" y="771.58" font-size="11.72" textLength="25.83" lengthAdjust="spacingAndGlyphs" stroke-width="0.40">2024</text><text x="1371.89" y="771.65" font-size="11.61" stroke-width="0.48">年</text><text x="1383.28" y="771.58" font-size="11.72" textLength="12.91" lengthAdjust="spacingAndGlyphs" stroke-width="0.40">09</text><text x="1395.97" y="771.65" font-size="11.61" stroke-width="0.48">月</text></g>
<line x1="1499.6" x2="1499.6" y1="755.5" y2="760.1" stroke="#e9ecff" stroke-width="1"/>
<g fill="#f3f6ff" stroke="#f3f6ff" ><text x="1468.77" y="771.58" font-size="11.72" textLength="25.83" lengthAdjust="spacingAndGlyphs" stroke-width="0.40">2024</text><text x="1494.37" y="771.65" font-size="11.61" stroke-width="0.48">年</text><text x="1505.76" y="771.58" font-size="11.72" textLength="12.91" lengthAdjust="spacingAndGlyphs" stroke-width="0.40">11</text><text x="1518.45" y="771.65" font-size="11.61" stroke-width="0.48">月</text></g>
<circle cx="887.2" cy="498.8" r="2.0" fill="#f7d0d3" stroke="#ec9aa2" stroke-width="0.9"/>
<g fill="#bcdaf7" stroke="#bcdaf7" ><text x="869.73" y="488.03" font-size="11.72" textLength="34.95" lengthAdjust="spacingAndGlyphs" stroke-width="0.40">641.87</text></g>
<circle cx="948.4" cy="614.8" r="2.0" fill="#f7d0d3" stroke="#ec9aa2" stroke-width="0.9"/>
<g fill="#bcdaf7" stroke="#bcdaf7" ><text x="930.97" y="604.03" font-size="11.72" textLength="34.95" lengthAdjust="spacingAndGlyphs" stroke-width="0.40">351.87</text></g>
<circle cx="1009.7" cy="587.5" r="2.0" fill="#f7d0d3" stroke="#ec9aa2" stroke-width="0.9"/>
<g fill="#bcdaf7" stroke="#bcdaf7" ><text x="992.21" y="576.82" font-size="11.72" textLength="34.95" lengthAdjust="spacingAndGlyphs" stroke-width="0.40">419.90</text></g>
<circle cx="1070.9" cy="539.9" r="2.0" fill="#f7d0d3" stroke="#ec9aa2" stroke-width="0.9"/>
<g fill="#bcdaf7" stroke="#bcdaf7" ><text x="1053.45" y="529.22" font-size="11.72" textLength="34.95" lengthAdjust="spacingAndGlyphs" stroke-width="0.40">538.90</text></g>
<circle cx="1132.2" cy="613.9" r="2.0" fill="#f7d0d3" stroke="#ec9aa2" stroke-width="0.9"/>
<g fill="#bcdaf7" stroke="#bcdaf7" ><text x="1114.69" y="603.22" font-size="11.72" textLength="34.95" lengthAdjust="spacingAndGlyphs" stroke-width="0.40">353.90</text></g>
<circle cx="1193.4" cy="595.3" r="2.0" fill="#f7d0d3" stroke="#ec9aa2" stroke-width="0.9"/>
<g fill="#bcdaf7" stroke="#bcdaf7" ><text x="1175.93" y="584.54" font-size="11.72" textLength="34.95" lengthAdjust="spacingAndGlyphs" stroke-width="0.40">400.60</text></g>
<circle cx="1254.6" cy="592.6" r="2.0" fill="#f7d0d3" stroke="#ec9aa2" stroke-width="0.9"/>
<g fill="#bcdaf7" stroke="#bcdaf7" ><text x="1237.17" y="581.90" font-size="11.72" textLength="34.95" lengthAdjust="spacingAndGlyphs" stroke-width="0.40">407.20</text></g>
<circle cx="1315.9" cy="616.1" r="2.0" fill="#f7d0d3" stroke="#ec9aa2" stroke-width="0.9"/>
<g fill="#bcdaf7" stroke="#bcdaf7" ><text x="1298.41" y="605.38" font-size="11.72" textLength="34.95" lengthAdjust="spacingAndGlyphs" stroke-width="0.40">348.50</text></g>
<circle cx="1377.1" cy="613.9" r="2.0" fill="#f7d0d3" stroke="#ec9aa2" stroke-width="0.9"/>
<g fill="#bcdaf7" stroke="#bcdaf7" ><text x="1359.65" y="603.22" font-size="11.72" textLength="34.95" lengthAdjust="spacingAndGlyphs" stroke-width="0.40">353.90</text></g>
<circle cx="1438.4" cy="610.4" r="2.0" fill="#f7d0d3" stroke="#ec9aa2" stroke-width="0.9"/>
<g fill="#bcdaf7" stroke="#bcdaf7" ><text x="1420.89" y="599.64" font-size="11.72" textLength="34.95" lengthAdjust="spacingAndGlyphs" stroke-width="0.40">362.85</text></g>
<line x1="1482" x2="1505.3" y1="448.1" y2="448.1" stroke="#e58c93" stroke-width="1.9"/>
<circle cx="1493.6" cy="448.1" r="4.7" fill="#fff" stroke="#e58c93" stroke-width="1.9"/>
<g fill="#f3f6ff" stroke="#f3f6ff" stroke-width="0.48"><text x="1509.48" y="452.15" font-size="11.61" textLength="78.57" lengthAdjust="spacing">焦厂碳排放总量</text></g>
<g fill="#ffffff" stroke="#ffffff" opacity="0.4" ><text x="1328.14" y="744.42" font-size="18.72" textLength="36.72" lengthAdjust="spacing" stroke-width="0">激活</text><text x="1370.32" y="744.30" font-size="18.90" textLength="81.50" lengthAdjust="spacingAndGlyphs" stroke-width="0.00">Windows</text></g>
<g fill="#ffffff" stroke="#ffffff" opacity="0.33" ><text x="1329.04" y="765.07" font-size="13.52" textLength="26.52" lengthAdjust="spacing" stroke-width="0">转到</text><text x="1355.30" y="764.98" font-size="13.65" textLength="8.83" lengthAdjust="spacingAndGlyphs" stroke-width="0.00">“</text><text x="1363.87" y="765.07" font-size="13.52" textLength="26.52" lengthAdjust="spacing" stroke-width="0">设置</text><text x="1390.13" y="764.98" font-size="13.65" textLength="8.83" lengthAdjust="spacingAndGlyphs" stroke-width="0.00">”</text><text x="1398.70" y="765.07" font-size="13.52" textLength="39.52" lengthAdjust="spacing" stroke-width="0">以激活</text><text x="1442.16" y="764.98" font-size="13.65" textLength="58.86" lengthAdjust="spacingAndGlyphs" stroke-width="0.00">Windows</text></g>
<path d="M1595 627.6H1588.6a14.7 14.7 0 0 0 0 29.4H1595Z" fill="url(#bg1)"/>
<polyline points="1589.6,637.8 1584.0,643.4 1589.6,649.0" fill="none" stroke="#e2f4ff" stroke-width="1.9"/>
<g fill="#c2def6" stroke="#c2def6" stroke-width="0.18"><text x="14.51" y="810.25" font-size="15.34" textLength="44.83" lengthAdjust="spacing">碳排放</text></g>
<rect x="0" y="814.55" width="128" height="1.45" fill="#ffffff"/>
<path fill="#cfe2ff" d="M1521.65 794.7L1530.9 803.9H1528.3V811.1H1523.0V805.7H1520.5V811.1H1515.1V803.9H1512.5Z"/>
<g fill="none" stroke="#b3c0ea" stroke-width="1.05"><path d="M1569.9 810.1L1585.1 795.7"/><path d="M1579.2 795.4H1585.4V801.4"/><path d="M1569.6 804.6V810.4H1575.8"/></g>
</svg>
</body></html>
